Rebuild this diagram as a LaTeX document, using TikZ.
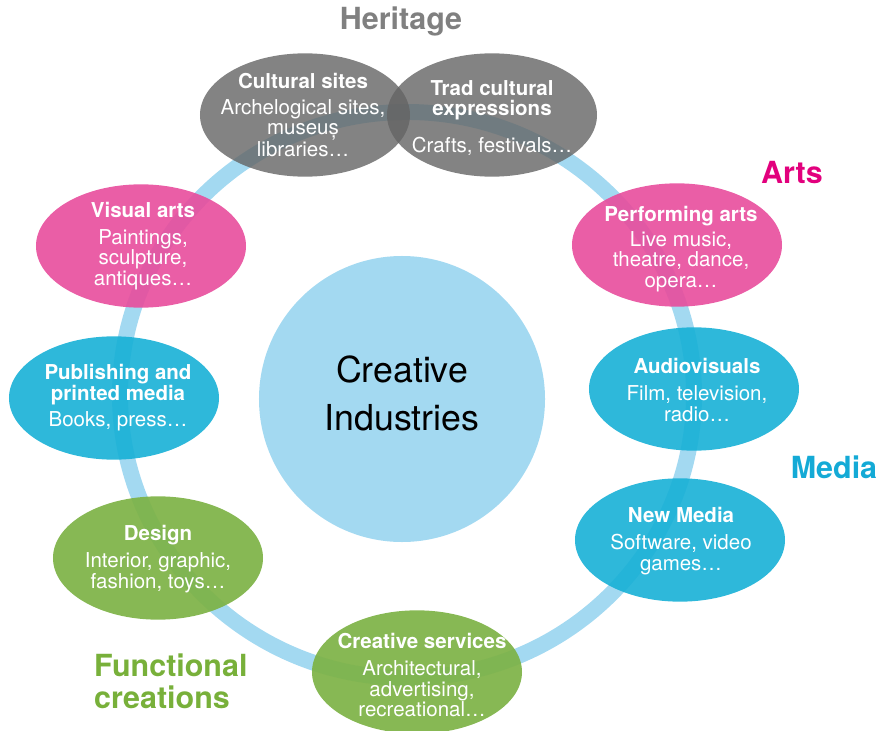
\documentclass[tikz,border=0pt]{standalone}
\usepackage{fontspec}
\setmainfont{TeX Gyre Heros}
\usetikzlibrary{shapes.geometric}

\definecolor{ringblue}{RGB}{163,217,241}
\definecolor{artpink}{RGB}{232,76,156}
\definecolor{mediablue}{RGB}{23,176,214}
\definecolor{funcgreen}{RGB}{125,178,69}
\definecolor{heritagegray}{RGB}{100,100,100}
\definecolor{artstitle}{RGB}{226,0,125}
\definecolor{mediatitle}{RGB}{20,170,214}
\definecolor{functitle}{RGB}{120,176,58}
\definecolor{heritagetitle}{RGB}{128,128,128}

\tikzset{
  sector/.style={ellipse, inner sep=0pt, minimum width=6.3cm, minimum height=3.7cm},
  sectortext/.style={align=center, text=white, inner sep=0pt, font=\fontsize{17.5}{17.5}\selectfont},
  arts/.style={sector, fill=artpink, fill opacity=0.9},
  media/.style={sector, fill=mediablue, fill opacity=0.9},
  func/.style={sector, fill=funcgreen, fill opacity=0.92},
  heritage/.style={sector, fill=heritagegray, fill opacity=0.8},
  heading/.style={font=\fontsize{26}{27}\selectfont\bfseries, inner sep=0pt}
}

\begin{document}
\begin{tikzpicture}[x=0.03cm, y=-0.03cm]
  \useasboundingbox (0,0) rectangle (883,731);

  % ring and core
  \draw[ringblue, line width=13.6pt] (407,395) ellipse [x radius=8.61cm, y radius=8.49cm];
  \node[circle, fill=ringblue, inner sep=0pt, minimum size=8.58cm] (core) at (402,399) {};
  \node[align=center, font=\fontsize{30.5}{41}\selectfont] (coretext) at (402,393) {Creative\\Industries};

  % heritage
  \node[heritage] (sites) at (305,115) {};
  \node[heritage] (trad) at (492,115) {};
  \node[sectortext] (sitestext) at (303,115) {\textbf{Cultural sites}\\[5pt]Archelogical sites,\\museuș\\libraries\dots};
  \node[sectortext] (tradtext) at (492,118) {\textbf{Trad cultural}\\\textbf{expressions}\\[14pt]Crafts, festivals\dots};

  % arts
  \node[arts] (visual) at (141,246) {};
  \node[sectortext] (visualtext) at (143,246) {\textbf{Visual arts}\\[5pt]Paintings,\\sculpture,\\antiques\dots};
  \node[arts] (performing) at (677,245) {};
  \node[sectortext] (performingtext) at (681,249) {\textbf{Performing arts}\\[3.5pt]Live music,\\theatre, dance,\\opera\dots};

  % media
  \node[media] (publishing) at (114,398) {};
  \node[sectortext] (publishingtext) at (118,398) {\textbf{Publishing and}\\\textbf{printed media}\\[5pt]Books, press\dots};
  \node[media] (audio) at (694,389) {};
  \node[sectortext] (audiotext) at (697,390) {\textbf{Audiovisuals}\\[6pt]Film, television,\\radio\dots};
  \node[media] (newmedia) at (680,540) {};
  \node[sectortext] (newmediatext) at (681,541) {\textbf{New Media}\\[5.5pt]Software, video\\games\dots};

  % functional creations
  \node[func] (design) at (158,558) {};
  \node[sectortext] (designtext) at (158,559) {\textbf{Design}\\[5.5pt]Interior, graphic,\\fashion, toys\dots};
  \node[func] (services) at (417,672) {};
  \node[sectortext] (servicestext) at (422,675) {\textbf{Creative services}\\[6pt]Architectural,\\advertising,\\recreational\dots};

  % group titles
  \node[heading, text=heritagetitle] (heritagehead) at (401,21) {Heritage};
  \node[heading, text=artstitle] (artshead) at (792,173) {Arts};
  \node[heading, text=mediatitle] (mediahead) at (834,467) {Media};
  \node[heading, text=functitle, anchor=west, align=left] (funchead) at (94,681) {Functional\\creations};
\end{tikzpicture}
\end{document}
